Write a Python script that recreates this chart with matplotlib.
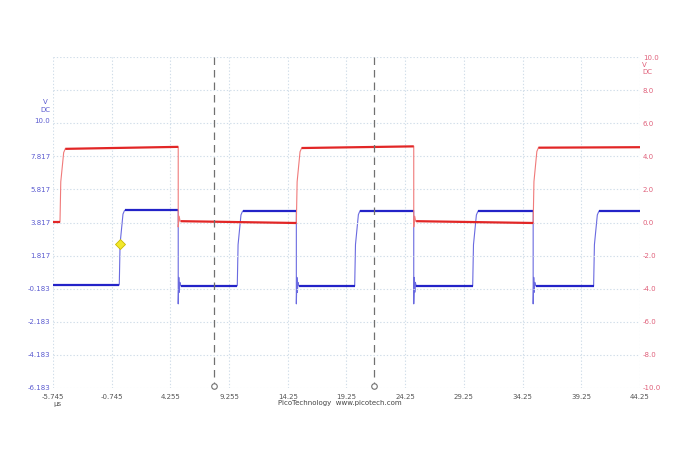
import matplotlib
matplotlib.use("Agg")
import matplotlib.pyplot as plt
import numpy as np

# ---------------- data ----------------
x_ticks = [-5.745, -0.745, 4.255, 9.255, 14.25, 19.25, 24.25, 29.25, 34.25, 39.25, 44.25]
x_labels = ["-5.745", "-0.745", "4.255", "9.255", "14.25", "19.25", "24.25", "29.25", "34.25", "39.25", "44.25"]
left_ticks = [-6.183, -4.183, -2.183, -0.183, 1.817, 3.817, 5.817, 7.817, 10.0]
left_labels = ["-6.183", "-4.183", "-2.183", "-0.183", "1.817", "3.817", "5.817", "7.817", "10.0"]
right_ticks = [-10, -8, -6, -4, -2, 0, 2, 4, 6, 8, 10]
right_labels = ["-10.0", "-8.0", "-6.0", "-4.0", "-2.0", "0.0", "2.0", "4.0", "6.0", "8.0", "10.0"]

# Channel B (blue, left axis): edge times (µs), edge kind, and level at each segment
blue_edge_t = [-0.10, 4.92, 9.95, 14.98, 19.95, 24.98, 30.00, 35.15, 40.30]
blue_edge_kind = ["rise", "fall", "rise", "fall", "rise", "fall", "rise", "fall", "rise"]
blue_levels = [0.05, 4.55, 0.0, 4.5, 0.0, 4.52, 0.0, 4.5, 0.0, 4.5]
blue_undershoot = -1.1

# Channel A (red, right axis)
red_edge_t = [-5.15, 4.92, 14.98, 24.98, 35.15]
red_edge_kind = ["rise", "fall", "rise", "fall", "rise"]
red_levels_start = [0.03, 4.45, 0.08, 4.5, 0.08, 4.52]
red_levels_end = [0.03, 4.57, -0.03, 4.6, -0.03, 4.55]

cursor_t = [8.0, 21.6]
trigger_t, trigger_v = -0.05, 2.5

rise_time = 0.45
xmin, xmax = -5.745, 44.25

# ---------------- figure ----------------
fig = plt.figure(figsize=(6.94, 4.63), dpi=100)
ax = fig.add_axes([53 / 694, 1 - 388 / 463, (640 - 53) / 694, (388 - 57) / 463])
ax2 = ax.twinx()

grid_col = "#d0dde9"
for a in (ax, ax2):
    for s in a.spines.values():
        s.set_visible(False)

ax.set_xlim(xmin, xmax)
ax.set_ylim(-6.183, 13.817)
ax2.set_ylim(-10, 10)
ax2.set_xlim(xmin, xmax)

# grid
for xt in x_ticks:
    ax.axvline(xt, color=grid_col, lw=0.8, ls=(0, (1.2, 1.8)), zorder=0)
for yt in right_ticks:
    ax2.axhline(yt, color=grid_col, lw=0.8, ls=(0, (1.2, 1.8)), zorder=0)

# ticks
ax.set_xticks(x_ticks)
ax.set_xticklabels(x_labels, fontsize=5.0, color="#555555")
ax.tick_params(axis="x", length=0, pad=4)
ax.set_yticks(left_ticks)
ax.set_yticklabels(left_labels, fontsize=5.0, color="#5b5bd0")
ax.tick_params(axis="y", length=0, pad=2)
ax2.set_yticks(right_ticks)
ax2.set_yticklabels(right_labels, fontsize=5.0, color="#e0607a")
ax2.tick_params(axis="y", length=0, pad=2)


def build(edge_t, kinds, lv_start, lv_end, undershoot=None, tr=rise_time):
    """Return list of flat segments and transition polylines."""
    flats = []
    trans = []
    seg_start = xmin
    for i, (t, k) in enumerate(zip(edge_t, kinds)):
        a0, a1 = lv_start[i], lv_end[i]
        b0 = lv_start[i + 1]
        flats.append(([seg_start, t], [a0, a1]))
        if k == "rise":
            trans.append(([t, t + tr * 0.15, t + tr * 0.7, t + tr],
                          [a1, a1 + 0.55 * (b0 - a1), a1 + 0.95 * (b0 - a1), b0]))
            seg_start = t + tr
        else:
            if undershoot is not None:
                trans.append(([t, t, t + 0.05, t + 0.09, t + 0.14, t + 0.2],
                              [a1, undershoot, b0 + 0.5, b0 - 0.4, b0 + 0.2, b0]))
            else:
                trans.append(([t, t, t + 0.08, t + 0.16], [a1, b0 - 0.35, b0 + 0.3, b0]))
            seg_start = t + 0.2
    flats.append(([seg_start, xmax], [lv_start[-1], lv_end[-1]]))
    return flats, trans


# blue
bf, bt = build(blue_edge_t, blue_edge_kind, blue_levels, blue_levels, undershoot=blue_undershoot)
for xs, ys in bt:
    ax.plot(xs, ys, color="#6a6ae0", lw=0.8, zorder=3)
for xs, ys in bf:
    ax.plot(xs, ys, color="#2323c8", lw=1.6, solid_capstyle="butt", zorder=4)

# red
rf, rt = build(red_edge_t, red_edge_kind, red_levels_start, red_levels_end, undershoot=None)
for xs, ys in rt:
    ax2.plot(xs, ys, color="#f07a7a", lw=0.8, zorder=3)
for xs, ys in rf:
    ax2.plot(xs, ys, color="#e22626", lw=1.6, solid_capstyle="butt", zorder=4)

# cursors
for ct in cursor_t:
    ax2.plot([ct, ct], [10, -9.85], color="#707070", lw=0.9, ls=(0, (6, 4)), zorder=5)
    ax2.plot([ct], [-9.85], marker="o", ms=4, mfc="white", mec="#707070", mew=0.8, zorder=6, clip_on=False)

# trigger marker
ax.plot([trigger_t], [trigger_v], marker="D", ms=5, mfc="#f2e82a", mec="#c8b800", mew=0.6, zorder=7)

# unit labels
fig.text(45 / 694, 1 - 102 / 463, "V", fontsize=5.0, color="#5b5bd0", ha="center", va="center")
fig.text(45 / 694, 1 - 110 / 463, "DC", fontsize=5.0, color="#5b5bd0", ha="center", va="center")
fig.text(642 / 694, 1 - 65 / 463, "V", fontsize=5.0, color="#e0607a", ha="left", va="center")
fig.text(642 / 694, 1 - 72 / 463, "DC", fontsize=5.0, color="#e0607a", ha="left", va="center")
fig.text(57 / 694, 1 - 404 / 463, "µs", fontsize=5.0, color="#555555", ha="center", va="center")
fig.text(340 / 694, 1 - 403 / 463, "PicoTechnology  www.picotech.com", fontsize=5.0, color="#444444",
         ha="center", va="center")

fig.savefig("out.png", dpi=100, facecolor="white")
